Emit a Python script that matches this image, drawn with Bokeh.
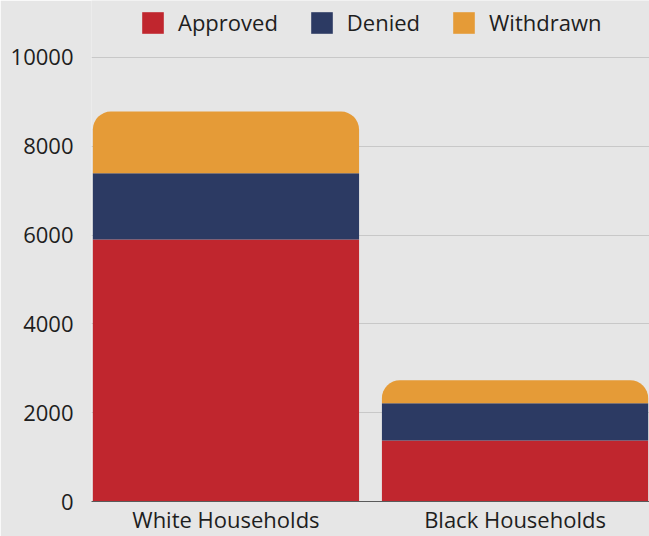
import numpy as np
from bokeh.plotting import figure
from bokeh.models import Range1d, FactorRange, FixedTicker, Legend, LegendItem
from bokeh.embed import file_html
from bokeh.resources import INLINE

groups = ["White Households", "Black Households"]
approved = [5900, 1375]
denied = [1490, 835]
withdrawn = [1390, 520]
y_ticks = [0, 2000, 4000, 6000, 8000, 10000]

BG = "#e6e6e6"
RED = "#c0262e"
NAVY = "#2c3a63"
ORANGE = "#e59b37"
FONT = "Open Sans"

a = np.array(approved)
d = np.array(denied)
w = np.array(withdrawn)

p = figure(
    x_range=FactorRange(*groups, factor_padding=0.075, range_padding=0),
    y_range=Range1d(0, 11280),
    width=649, height=536,
    output_backend="svg", toolbar_location=None,
    background_fill_color=BG, border_fill_color=BG,
    outline_line_color=None,
    min_border_left=91, min_border_right=0, min_border_top=0, min_border_bottom=0,
)

BW = 0.99
r1 = p.vbar(x=groups, bottom=0, top=a, width=BW, fill_color=RED, line_color=None)
r2 = p.vbar(x=groups, bottom=a, top=a + d, width=BW, fill_color=NAVY, line_color=None)
r3 = p.vbar(x=groups, bottom=a + d, top=a + d + w, width=BW, fill_color=ORANGE,
            line_color=None, border_radius=(18, 18, 0, 0))

p.yaxis.ticker = FixedTicker(ticks=y_ticks)
p.yaxis.axis_line_color = None
p.yaxis.major_tick_line_color = None
p.yaxis.major_tick_out = 0
p.yaxis.major_tick_in = 0
p.yaxis.minor_tick_line_color = None
p.yaxis.major_label_standoff = 18
p.yaxis.major_label_text_font = FONT
p.yaxis.major_label_text_font_size = "22px"
p.yaxis.major_label_text_color = "#1e1e1e"

p.xaxis.axis_line_color = "#5a5a5a"
p.xaxis.major_tick_line_color = None
p.xaxis.major_tick_out = 0
p.xaxis.major_tick_in = 0
p.xaxis.minor_tick_line_color = None
p.xaxis.major_label_standoff = 2
p.xaxis.major_label_text_font = FONT
p.xaxis.major_label_text_font_size = "22px"
p.xaxis.major_label_text_color = "#1e1e1e"

p.xgrid.grid_line_color = None
p.ygrid.ticker = FixedTicker(ticks=y_ticks[1:])
p.ygrid.grid_line_color = "#c8c8c8"
p.ygrid.grid_line_width = 1

legend = Legend(
    items=[LegendItem(label="Approved", renderers=[r1]),
           LegendItem(label="Denied", renderers=[r2]),
           LegendItem(label="Withdrawn", renderers=[r3])],
    orientation="horizontal", location=(48, 464),
    glyph_width=27, glyph_height=27,
    label_text_font=FONT, label_text_font_size="22px", label_text_color="#1e1e1e",
    label_standoff=12, spacing=30, padding=0, margin=0,
    border_line_color=None, background_fill_alpha=0,
)
p.add_layout(legend)

open("out.html", "w").write(file_html(p, INLINE))
